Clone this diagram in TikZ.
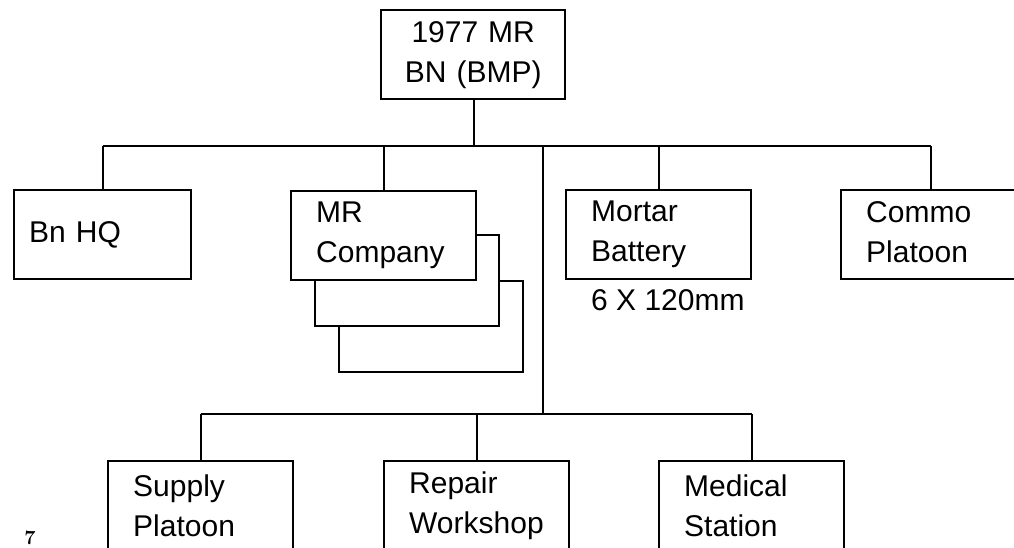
\documentclass[tikz,border=0pt]{standalone}
\usepackage{fontspec}
\setmainfont{Liberation Sans}
\newfontfamily\pagefont{Latin Modern Roman}
\newcommand{\liftlines}[2]{\raisebox{#1}{\begin{tabular}{@{}l@{}}#2\end{tabular}}}
\begin{document}
\begin{tikzpicture}[x=1pt,y=-1pt,
  line width=2.4pt,
  unit/.style={draw=black, fill=white, line width=2.4pt, anchor=north west,
    minimum height=89pt, text width=135pt, inner xsep=25pt, inner ysep=0pt,
    align=left, font=\fontsize{30}{40}\selectfont},
  blank/.style={draw=black, fill=white, line width=2.4pt, anchor=north west,
    minimum width=184pt, minimum height=91pt, inner sep=0pt},
  conn/.style={draw=black, line width=2.4pt},
  lbl/.style={font=\fontsize{30}{40}\selectfont, inner sep=0pt}
]
\useasboundingbox (0,0) rectangle (1014,548);
\clip (0,0) rectangle (1014,548);
\fill[white] (0,0) rectangle (1014,548);

% top unit
\node[unit, align=center, inner xsep=0pt, text width=184pt] (top) at (380,9) {1977 MR\\BN (BMP)};

% first row
\node[unit, inner xsep=15pt, text width=147pt] (hq) at (13,189) {\raisebox{5pt}{Bn HQ}};
\node[blank] (mrc) at (338,280) {};
\node[blank] (mrb) at (314,234) {};
\node[unit] (mr) at (290,190) {MR\\Company};
\node[unit] (mort) at (565,189) {Mortar\\Battery};
\node[lbl, anchor=west] (cal) at (590,300) {6 X 120mm};
\node[unit, text width=160pt] (commo) at (840,189) {\liftlines{5pt}{Commo\\Platoon}};

% second row
\node[unit] (sup) at (107,460) {Supply\\Platoon};
\node[unit] (rep) at (383,460) {Repair\\Workshop};
\node[unit] (med) at (658,460) {Medical\\Station};

% page number
\node[font=\pagefont\bfseries\fontsize{20}{22}\selectfont, anchor=base, inner sep=0pt] (pg) at (30,544) {7};

% connectors
\coordinate (bus1) at (474,146);
\coordinate (trunk) at (543,146);
\coordinate (bus2) at (543,414);
\coordinate (cdrop) at (931,146);

\draw[conn] (top.south -| bus1) -- (bus1);
\draw[conn] (hq.north |- bus1) -- (cdrop);
\draw[conn] (hq.north |- bus1) -- (hq.north);
\draw[conn] (mr.north |- bus1) -- (mr.north);
\draw[conn] (mort.north |- bus1) -- (mort.north);
\draw[conn] (cdrop) -- (cdrop |- commo.north);
\draw[conn] (trunk) -- (bus2);
\draw[conn] (sup.north |- bus2) -- (med.north |- bus2);
\draw[conn] (sup.north |- bus2) -- (sup.north);
\draw[conn] (rep.north |- bus2) -- (rep.north);
\draw[conn] (med.north |- bus2) -- (med.north);
\end{tikzpicture}
\end{document}
